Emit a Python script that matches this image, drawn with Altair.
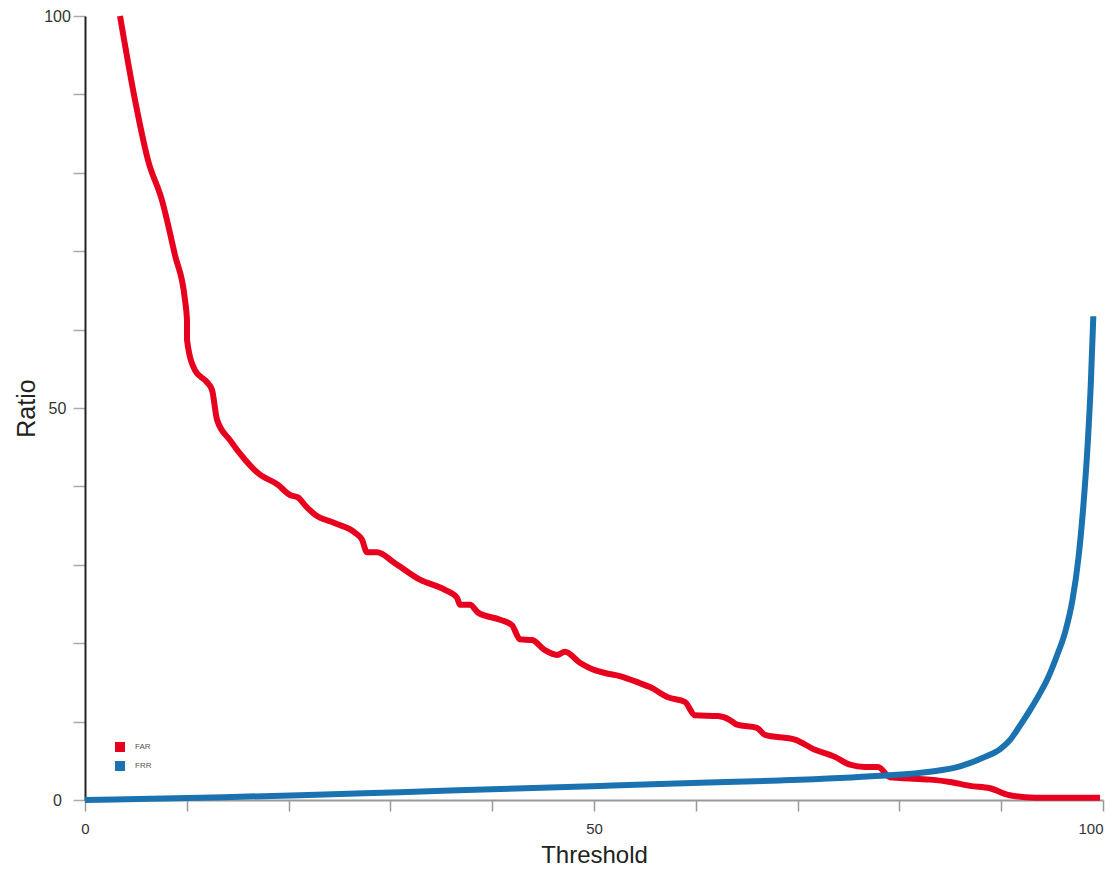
import altair as alt
import pandas as pd

far_t = [3.44, 4.91, 6.19, 7.56, 8.84, 9.82, 10.02, 10.02, 10.81, 11.98, 12.48, 12.97, 14.24, 15.72,
         16.99, 18.96, 20.14, 20.92, 21.61, 22.59, 24.56, 26.52, 27.21, 27.70, 28.68, 30.45, 32.91,
         35.36, 36.54, 36.84, 37.82, 38.61, 40.77, 41.94, 42.73, 43.91, 45.19, 46.37, 47.15, 48.62,
         49.61, 51.08, 52.55, 54.52, 55.50, 57.27, 58.94, 59.92, 62.18, 63.36, 64.05, 66.01, 66.80,
         69.74, 71.71, 73.67, 75.15, 76.62, 77.90, 79.08, 80.06, 83.01, 84.97, 86.94, 88.90, 90.86,
         93.32, 99.71]
far_v = [100.0, 89.3, 81.6, 76.5, 69.5, 63.8, 61.2, 58.7, 54.8, 53.3, 52.3, 48.5, 45.9, 43.4,
         41.7, 40.2, 38.9, 38.6, 37.6, 36.4, 35.3, 34.1, 33.2, 31.6, 31.6, 30.2, 28.1,
         26.8, 25.8, 24.9, 24.9, 23.9, 23.0, 22.3, 20.5, 20.4, 19.1, 18.5, 18.9, 17.5,
         16.8, 16.2, 15.8, 14.9, 14.4, 13.1, 12.5, 10.8, 10.7, 10.2, 9.6, 9.2, 8.3,
         7.7, 6.4, 5.5, 4.5, 4.2, 4.2, 2.9, 2.8, 2.6, 2.3, 1.8, 1.5, 0.6,
         0.3, 0.3]

frr_t = [0.0, 11.3, 21.12, 30.94, 40.77, 50.59, 60.41, 68.27, 78.09, 83.0, 85.95, 88.4, 89.9,
         90.9, 91.8, 92.8, 93.8, 94.6, 95.5, 96.3, 97.0, 97.6, 98.1, 98.5, 98.8, 99.05]
frr_v = [0.0, 0.3, 0.6, 1.0, 1.4, 1.8, 2.2, 2.5, 3.1, 3.6, 4.3, 5.5, 6.5,
         7.7, 9.4, 11.4, 13.6, 15.6, 18.5, 21.5, 25.5, 31.0, 38.0, 45.5, 53.0, 61.7]

series_names = ["FAR", "FRR"]
series_colors = ["#E8011F", "#1A72B0"]

df = pd.concat([
    pd.DataFrame({"Threshold": far_t, "Ratio": far_v, "Series": series_names[0]}),
    pd.DataFrame({"Threshold": frr_t, "Ratio": frr_v, "Series": series_names[1]}),
])

chart = alt.Chart(df).mark_line(strokeWidth=6, interpolate="monotone", strokeCap="butt").encode(
    x=alt.X("Threshold:Q",
            scale=alt.Scale(domain=[0, 100], nice=False),
            axis=alt.Axis(title="Threshold", values=list(range(0, 101, 10)),
                          labelExpr="datum.value % 50 == 0 ? datum.label : ''",
                          labelAlign=alt.ExprRef(expr="datum.value >= 100 ? 'right' : 'center'"),
                          grid=False, domainColor="#999999", domainWidth=2,
                          tickColor="#999999", tickSize=11, tickWidth=1.5,
                          labelFontSize=15, labelColor="#333333", labelPadding=10,
                          titleFontSize=24, titleFontWeight="normal", titleColor="#222222",
                          titlePadding=7, labelFlush=False)),
    y=alt.Y("Ratio:Q",
            scale=alt.Scale(domain=[0, 100], nice=False),
            axis=alt.Axis(title="Ratio", values=list(range(0, 101, 10)),
                          labelExpr="datum.value % 50 == 0 ? datum.label : ''",
                          grid=False, domainColor="#222222", domainWidth=2,
                          tickColor="#aaaaaa", tickSize=12, tickWidth=1.5,
                          labelFontSize=16, labelColor="#333333", labelPadding=16,
                          labelAlign="center",
                          titleFontSize=25, titleFontWeight="normal", titleColor="#222222",
                          titlePadding=4, labelFlush=False)),
    color=alt.Color("Series:N",
                    scale=alt.Scale(domain=series_names, range=series_colors),
                    legend=alt.Legend(title=None, orient="none", legendX=30, legendY=726,
                                      padding=0, clipHeight=10,
                                      symbolType="square", symbolSize=1, symbolStrokeWidth=9,
                                      labelFontSize=8, labelColor="#555555", rowPadding=9,
                                      labelOffset=10)),
).properties(
    width=1018, height=784,
    padding={"left": 77, "top": 8, "right": 4, "bottom": 66},
    autosize=alt.AutoSizeParams(type="none"),
).configure(font="Liberation Sans", view=alt.ViewConfig(stroke=None))

chart.save("out.html", embed_options={"renderer": "svg", "actions": False})
